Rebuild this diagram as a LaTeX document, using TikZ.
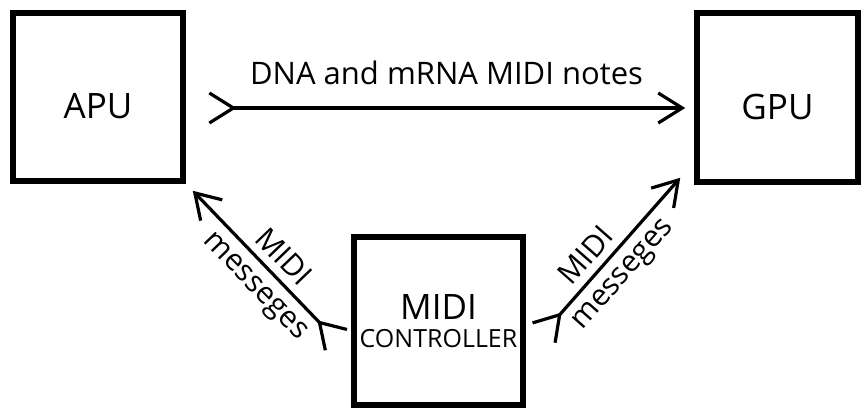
\documentclass[tikz,border=0pt]{standalone}
\usepackage{fontspec}
\setmainfont{Open Sans}
\usetikzlibrary{arrows.meta,calc}
\tikzset{
  unit/.style={draw, line width=2.75pt, inner sep=0pt},
  flow/.style={line width=1.6pt,
    {Straight Barb[reversed,length=12pt,width=15pt]}-{Straight Barb[length=12pt,width=15pt]}},
  tag/.style={inner sep=0pt, font=\fontsize{15}{18}\selectfont}
}
\begin{document}
\begin{tikzpicture}[x=0.5pt, y=-0.5pt]
  \useasboundingbox (0,0) rectangle (863,409);
  \node[unit, minimum width=85pt, minimum height=84pt, text height=21.5pt,
    text depth=0pt, font=\fontsize{17.5}{21}\selectfont] (apu) at (98,97) {APU};
  \node[unit, minimum width=80.5pt, minimum height=84.5pt, text height=21.5pt,
    text depth=0pt, font=\fontsize{17.5}{21}\selectfont] (gpu) at (777.5,97.5) {GPU};
  \node[unit, minimum width=84.5pt, minimum height=84pt, align=center]
    (ctrl) at (438.5,321)
    {\fontsize{17.5}{17.5}\selectfont MIDI\\[2pt]\fontsize{12.5}{17.5}\selectfont CONTROLLER};
  \draw[flow] ([shift={(22,11)}]apu.east) --
    node[tag, above=11pt, font=\fontsize{15.5}{18}\selectfont] (notes) {DNA and mRNA MIDI notes}
    ([shift={(-9,10.5)}]gpu.west);
    % mensajes MIDI hacia las dos unidades
  \draw[flow] ([shift={(-14,20)}]ctrl.west) --
    node[tag, sloped, pos=0.47, above=4pt] (midil) {MIDI}
    node[tag, sloped, pos=0.46, below=5pt] (msgl) {messeges}
    ([shift={(7,7)}]apu.south east);
  \draw[flow] ([shift={(17,13)}]ctrl.east) --
    node[tag, sloped, pos=0.42, above=4pt] (midir) {MIDI}
    node[tag, sloped, pos=0.47, below=5pt] (msgr) {messeges}
    ([shift={(-14,-7)}]gpu.south west);
\end{tikzpicture}
\end{document}
